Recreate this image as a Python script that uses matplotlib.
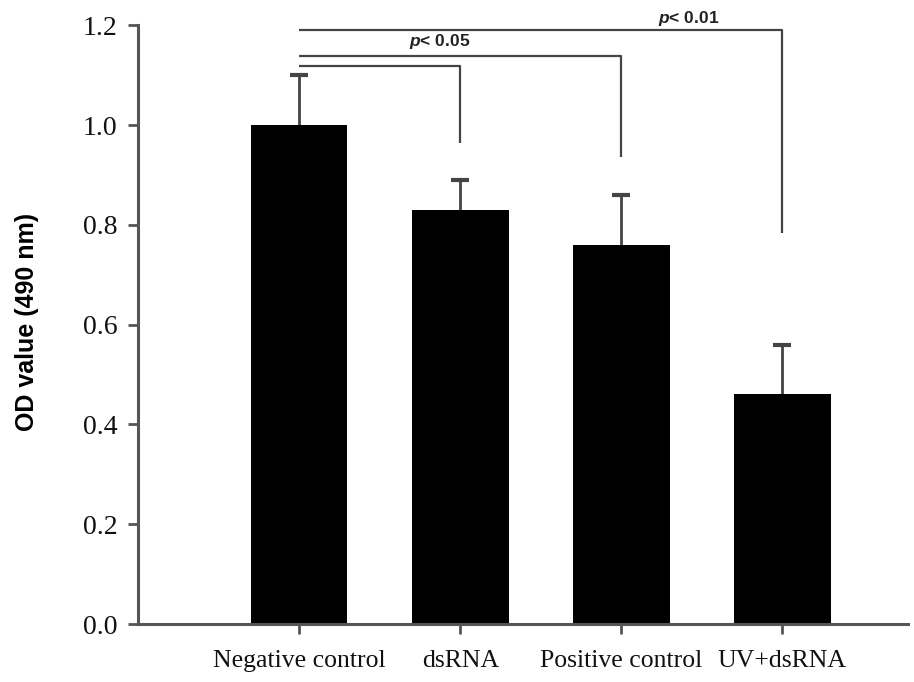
import matplotlib
matplotlib.use('Agg')
import matplotlib.pyplot as plt

# data
groups = ['Negative control', 'dsRNA', 'Positive control', 'UV+dsRNA']
od_mean = [1.00, 0.83, 0.76, 0.46]
od_err = [0.10, 0.06, 0.10, 0.10]

# significance brackets: (target group index, bracket height, drop end)
brackets = [(1, 1.118, 0.964),
            (2, 1.138, 0.936),
            (3, 1.190, 0.784)]

plt.rcParams['mathtext.fontset'] = 'custom'
plt.rcParams['mathtext.it'] = 'Liberation Sans:italic:bold'

fig = plt.figure(figsize=(9.14, 6.82), dpi=100)
ax = fig.add_axes([0.151, 0.085, 0.8425, 0.878])

x = range(len(groups))
line_col = '#444444'

ax.bar(x, od_mean, width=0.6, color='black', zorder=2)
eb = ax.errorbar(x, od_mean, yerr=[[0] * len(od_err), od_err], fmt='none',
                 ecolor=line_col, elinewidth=2, capsize=6.5, capthick=3, zorder=1)
# only the upper caps are drawn
eb[1][0].set_visible(False)

# brackets from the negative control to each group
for target, h, drop in brackets:
    ax.plot([0, target, target], [h, h, drop], color=line_col, lw=1.6,
            clip_on=False, solid_capstyle='butt')

ax.text(0.87, 1.168, r'$p$< 0.05', ha='center', va='center', fontsize=12.5,
        fontweight='bold', family='Liberation Sans', color='#222222')
ax.text(2.42, 1.214, r'$p$< 0.01', ha='center', va='center', fontsize=12.5,
        fontweight='bold', family='Liberation Sans', color='#222222', clip_on=False)

ax.set_xlim(-1.0, 3.78)
ax.set_ylim(0, 1.2)
ax.set_yticks([0.0, 0.2, 0.4, 0.6, 0.8, 1.0, 1.2])
ax.set_yticklabels(['0.0', '0.2', '0.4', '0.6', '0.8', '1.0', '1.2'])
ax.set_xticks(list(x))
ax.set_xticklabels(groups)

for lab in ax.get_yticklabels():
    lab.set_family('Liberation Serif')
    lab.set_fontsize(20)
    lab.set_color('#111111')
for lab in ax.get_xticklabels():
    lab.set_family('Liberation Serif')
    lab.set_fontsize(18.5)
    lab.set_color('#111111')

ax.spines['top'].set_visible(False)
ax.spines['right'].set_visible(False)
for s in ['left', 'bottom']:
    ax.spines[s].set_color('#555555')
    ax.spines[s].set_linewidth(2.2)

ax.tick_params(axis='both', direction='out', length=7, width=2, color='#555555')
ax.tick_params(axis='y', pad=8)
ax.tick_params(axis='x', pad=12)

ax.set_ylabel('OD value (490 nm)', fontsize=18, fontweight='bold',
              family='Liberation Sans')
ax.yaxis.set_label_coords(-0.128, 0.505)

fig.savefig('out.png', dpi=100)
